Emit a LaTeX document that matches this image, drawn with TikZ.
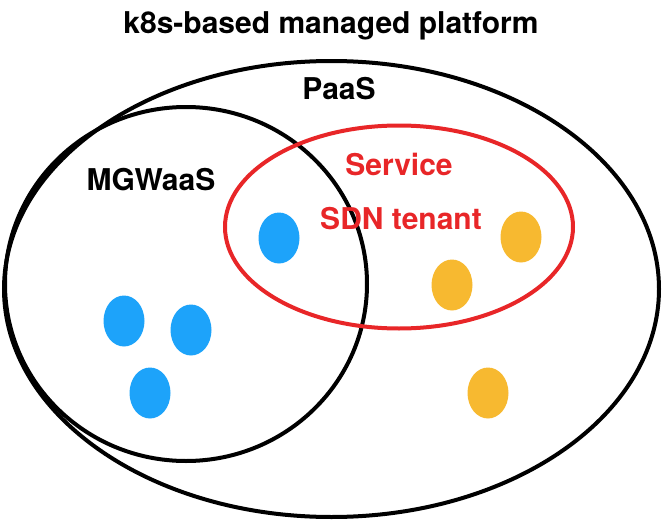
\documentclass[tikz,border=0pt]{standalone}
\usepackage{fontspec}
\setmainfont{TeX Gyre Heros}
\usetikzlibrary{shapes.geometric}
\definecolor{dotblue}{RGB}{29,163,250}
\definecolor{dotorange}{RGB}{247,185,48}
\definecolor{setred}{RGB}{232,38,40}
\begin{document}
\begin{tikzpicture}[x=1pt,y=-1pt,
  setline/.style={draw, ellipse, line width=4pt, inner sep=0pt, outer sep=0pt},
  dotnode/.style={ellipse, inner sep=0pt, outer sep=0pt, minimum width=41pt, minimum height=51pt},
  lbl/.style={anchor=base, inner sep=0pt, font=\fontsize{30}{35}\selectfont\bfseries}]
\useasboundingbox (0,0) rectangle (662,522);
\node[setline, minimum width=655pt, minimum height=456pt] (paas) at (331.5,289) {};
\node[setline, minimum width=362pt, minimum height=354pt] (mgw) at (186,284) {};
\node[setline, draw=setred, minimum width=348pt, minimum height=203pt] (sdn) at (399,227) {};
\node[dotnode, fill=dotblue] (b1) at (279,238) {};
\node[dotnode, fill=dotblue] (b2) at (124,321) {};
\node[dotnode, fill=dotblue] (b3) at (191,330) {};
\node[dotnode, fill=dotblue] (b4) at (150,393) {};
\node[dotnode, fill=dotorange] (o1) at (521,237) {};
\node[dotnode, fill=dotorange] (o2) at (452,285) {};
\node[dotnode, fill=dotorange] (o3) at (488,393) {};
\node[lbl] (title) at (331,33) {k8s-based managed platform};
\node[lbl] (paaslbl) at (339,99) {PaaS};
\node[lbl] (mgwlbl) at (151,190) {MGWaaS};
\node[lbl, text=setred] (svc) at (399,175) {Service};
\node[lbl, text=setred] (sdnlbl) at (401,229) {SDN tenant};
\end{tikzpicture}
\end{document}
